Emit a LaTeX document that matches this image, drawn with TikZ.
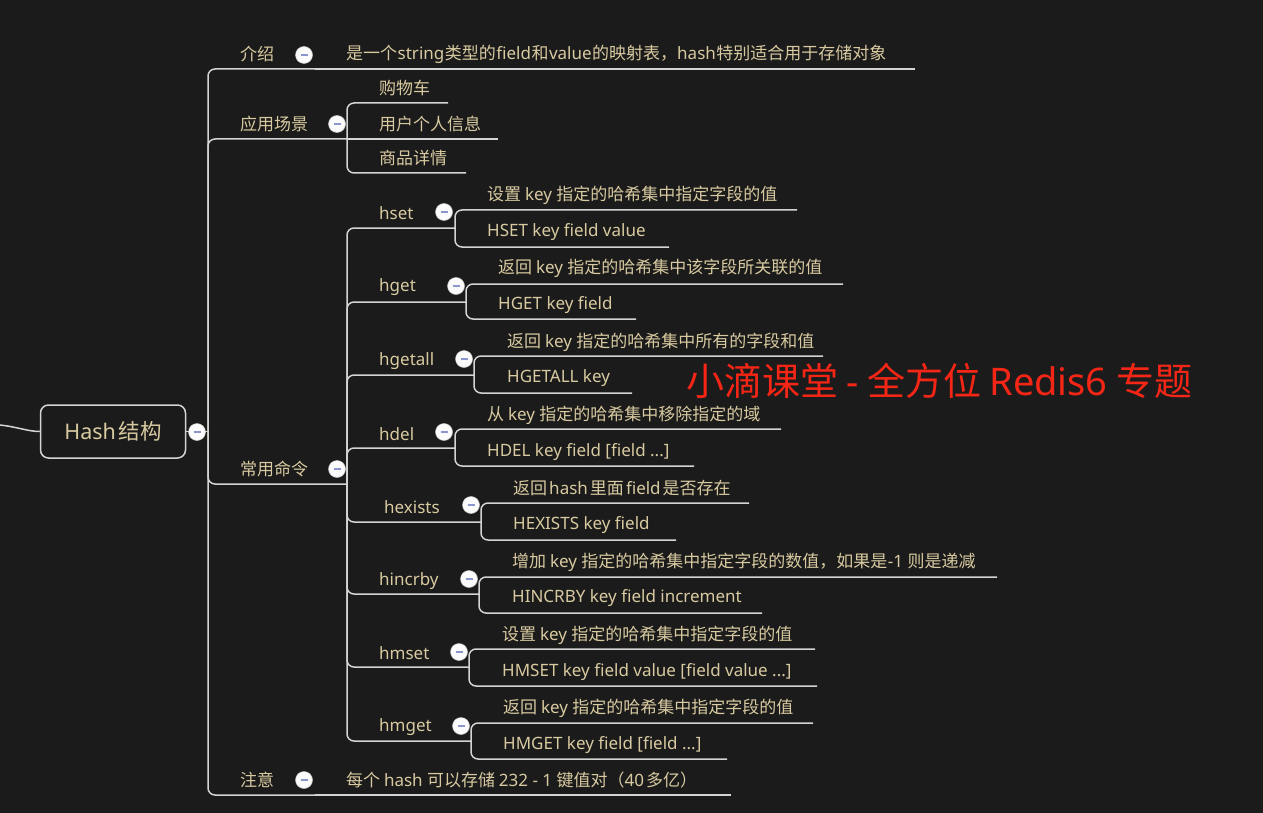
\documentclass[tikz,border=0pt]{standalone}
\usepackage{fontspec}
\setmainfont{Noto Sans CJK SC}
\newfontfamily\cjkf{Noto Sans CJK SC}
\newfontfamily\latf{Noto Sans}
% automatic switch between CJK and Latin fonts, with a small gap between the two scripts
\newcount\cjkcc
\cjkcc="4E00
\loop \XeTeXcharclass\cjkcc=1 \advance\cjkcc by 1 \ifnum\cjkcc<"A000 \repeat
\XeTeXcharclass"FF0C=2 \XeTeXcharclass"FF08=2 \XeTeXcharclass"FF09=2
\XeTeXcharclass"3001=2 \XeTeXcharclass"3002=2
\def\cjkgap{0.03em}
\XeTeXinterchartokenstate=1
\XeTeXinterchartoks 0 1 = {\hskip\cjkgap\cjkf}
\XeTeXinterchartoks 4095 1 = {\cjkf}
\XeTeXinterchartoks 1 0 = {\hskip\cjkgap\latf}
\XeTeXinterchartoks 4095 0 = {\latf}
\XeTeXinterchartoks 2 0 = {\latf}
\XeTeXinterchartoks 0 2 = {\cjkf}
\XeTeXinterchartoks 4095 2 = {\cjkf}
\definecolor{bg}{RGB}{27,27,27}
\definecolor{linec}{RGB}{212,212,212}
\definecolor{txtc}{RGB}{216,202,160}
\definecolor{redc}{RGB}{246,38,22}
\definecolor{minusc}{RGB}{140,150,205}
\tikzset{
  conn/.style={draw=linec, line width=1.5pt, rounded corners=7pt},
  lbl/.style={anchor=west, inner sep=0pt, text=txtc, font=\cjkf\fontsize{17}{17}\selectfont},
  wide/.style={font=\def\cjkgap{0.12em}\cjkf\fontsize{17}{17}\selectfont},
  icon/.style={circle, fill=white!97!gray, draw=gray!45, line width=0.5pt, minimum size=17pt, inner sep=0pt,
    path picture={\draw[minusc, line width=1.1pt] ([xshift=5pt]path picture bounding box.west) -- ([xshift=-5pt]path picture bounding box.east);}},
  rootbox/.style={draw=linec, line width=1.5pt, rounded corners=8pt, minimum width=145pt, minimum height=53pt, inner sep=0pt, text=txtc, font=\def\cjkgap{0.12em}\cjkf\fontsize{21.5}{21.5}\selectfont},
  redtitle/.style={anchor=west, inner sep=0pt, text=redc, font=\def\cjkgap{0.22em}\cjkf\fontsize{38}{38}\selectfont}
}
\begin{document}
\begin{tikzpicture}[x=1pt,y=-1pt]
\fill[bg] (0,0) rectangle (1263,813);
\useasboundingbox (0,0) rectangle (1263,813);

% root
\node[rootbox] (root) at (113,431.5) {Hash结构};
\coordinate (in) at (0,425);
\draw[draw=linec, line width=1.5pt] (in) .. controls (18,427) and (28,431.5) .. (root.west);
\coordinate (mb) at (208,431.5);
\draw[conn] (root.east) -- (mb);

% level 1 connectors
\coordinate (jsE) at (315,69);
\coordinate (yyB) at (347,139);
\coordinate (cmdB) at (347,484);
\coordinate (zyE) at (315,795);
\draw[conn] (mb) |- (jsE);
\draw[conn] (mb) |- (yyB);
\draw[conn] (mb) |- (cmdB);
\draw[conn] (mb) |- (zyE);

% 介绍
\node[lbl] (js) at (240,54) {介绍};
\node[lbl] (js1) at (346,54) {是一个string类型的field和value的映射表，hash特别适合用于存储对象};
\coordinate (js1E) at (915,69);
\draw[conn] (jsE) -- (js1E);

% 应用场景
\node[lbl] (yy) at (240,124) {应用场景};
\node[lbl] (yy1) at (379,88) {购物车};
\node[lbl] (yy2) at (379,124) {用户个人信息};
\node[lbl] (yy3) at (379,158) {商品详情};
\coordinate (yy1E) at (448,103);
\coordinate (yy2E) at (498,139);
\coordinate (yy3E) at (466,173);
\draw[conn] (yyB) |- (yy1E);
\draw[conn] (yyB) -- (yy2E);
\draw[conn] (yyB) |- (yy3E);

% 常用命令
\node[lbl] (cmd) at (240,469) {常用命令};

% hset
\node[lbl] (hset) at (379,213) {hset};
\coordinate (hsetB) at (455,228);
\draw[conn] (cmdB) |- (hsetB);
\node[lbl] (hset1) at (487,195) {设置 key 指定的哈希集中指定字段的值};
\node[lbl] (hset2) at (487,232) {HSET key field value};
\coordinate (hset1E) at (797,210);
\coordinate (hset2E) at (669,247);
\draw[conn] (hsetB) |- (hset1E);
\draw[conn] (hsetB) |- (hset2E);

% hget
\node[lbl] (hget) at (379,287) {hget};
\coordinate (hgetB) at (466,302);
\draw[conn] (cmdB) |- (hgetB);
\node[lbl] (hget1) at (498,268) {返回 key 指定的哈希集中该字段所关联的值};
\node[lbl] (hget2) at (498,305) {HGET key field};
\coordinate (hget1E) at (843,284);
\coordinate (hget2E) at (636,319);
\draw[conn] (hgetB) |- (hget1E);
\draw[conn] (hgetB) |- (hget2E);

% hgetall
\node[lbl] (hgetall) at (379,361) {hgetall};
\coordinate (hgetallB) at (474,375);
\draw[conn] (cmdB) |- (hgetallB);
\node[lbl] (hgetall1) at (507,342) {返回 key 指定的哈希集中所有的字段和值};
\node[lbl] (hgetall2) at (507,378) {HGETALL key};
\coordinate (hgetall1E) at (823,356);
\coordinate (hgetall2E) at (632,393);
\draw[conn] (hgetallB) |- (hgetall1E);
\draw[conn] (hgetallB) |- (hgetall2E);

% hdel
\node[lbl] (hdel) at (379,434) {hdel};
\coordinate (hdelB) at (455,448);
\draw[conn] (cmdB) |- (hdelB);
\node[lbl] (hdel1) at (487,415) {从 key 指定的哈希集中移除指定的域};
\node[lbl] (hdel2) at (487,452) {HDEL key field [field ...]};
\coordinate (hdel1E) at (781,429);
\coordinate (hdel2E) at (694,466);
\draw[conn] (hdelB) |- (hdel1E);
\draw[conn] (hdelB) |- (hdel2E);

% hexists
\node[lbl] (hexists) at (384,507) {hexists};
\coordinate (hexistsB) at (481,522);
\draw[conn] (cmdB) |- (hexistsB);
\node[lbl, wide] (hexists1) at (513,488) {返回hash里面field是否存在};
\node[lbl] (hexists2) at (513,525) {HEXISTS key field};
\coordinate (hexists1E) at (749,503);
\coordinate (hexists2E) at (676,540);
\draw[conn] (hexistsB) |- (hexists1E);
\draw[conn] (hexistsB) |- (hexists2E);

% hincrby
\node[lbl] (hincrby) at (379,581) {hincrby};
\coordinate (hincrbyB) at (479,594);
\draw[conn] (cmdB) |- (hincrbyB);
\node[lbl] (hincrby1) at (512,562) {增加 key 指定的哈希集中指定字段的数值，如果是-1 则是递减};
\node[lbl] (hincrby2) at (512,598) {HINCRBY key field increment};
\coordinate (hincrby1E) at (997,577);
\coordinate (hincrby2E) at (762,613);
\draw[conn] (hincrbyB) |- (hincrby1E);
\draw[conn] (hincrbyB) |- (hincrby2E);

% hmset
\node[lbl] (hmset) at (379,653) {hmset};
\coordinate (hmsetB) at (469,667);
\draw[conn] (cmdB) |- (hmsetB);
\node[lbl] (hmset1) at (502,635) {设置 key 指定的哈希集中指定字段的值};
\node[lbl] (hmset2) at (502,672) {HMSET key field value [field value ...]};
\coordinate (hmset1E) at (815,649);
\coordinate (hmset2E) at (817,686);
\draw[conn] (hmsetB) |- (hmset1E);
\draw[conn] (hmsetB) |- (hmset2E);

% hmget
\node[lbl] (hmget) at (379,727) {hmget};
\coordinate (hmgetB) at (471,741);
\draw[conn] (cmdB) |- (hmgetB);
\node[lbl] (hmget1) at (503,708) {返回 key 指定的哈希集中指定字段的值};
\node[lbl] (hmget2) at (503,745) {HMGET key field [field ...]};
\coordinate (hmget1E) at (813,723);
\coordinate (hmget2E) at (727,759);
\draw[conn] (hmgetB) |- (hmget1E);
\draw[conn] (hmgetB) |- (hmget2E);

% 注意
\node[lbl, wide] (zy) at (240,780) {注意};
\node[lbl, wide] (zy1) at (346,780) {每个 hash 可以存储 232 - 1 键值对（40多亿）};
\coordinate (zy1E) at (731,795);
\draw[conn] (zyE) -- (zy1E);

% collapse icons
\node[icon] (rooti) at (197,432) {};
\node[icon] (jsi) at (304,55) {};
\node[icon] (yyi) at (337,124) {};
\node[icon] (cmdi) at (337,469) {};
\node[icon] (zyi) at (304,780) {};
\node[icon] (hseti) at (444,212) {};
\node[icon] (hgeti) at (456,286) {};
\node[icon] (hgetalli) at (464,359) {};
\node[icon] (hdeli) at (444,432) {};
\node[icon] (hexistsi) at (471,505) {};
\node[icon] (hincrbyi) at (469,579) {};
\node[icon] (hmseti) at (459,652) {};
\node[icon] (hmgeti) at (461,726) {};

% watermark title
\node[redtitle] (title) at (686,381) {小滴课堂-全方位Redis6专题};
\end{tikzpicture}
\end{document}
